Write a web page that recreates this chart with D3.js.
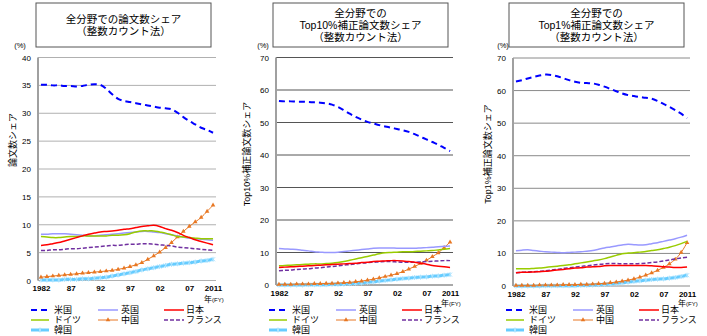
<!DOCTYPE html>
<html>
<head>
<meta charset="utf-8">
<script src="https://cdn.jsdelivr.net/npm/d3@7"></script>
<style>
body { margin: 0; background: #fff; }
svg { font-family: "Liberation Sans", Arial, "Noto Sans CJK JP", sans-serif; }
</style>
</head>
<body>
<svg id="chart" width="707" height="336"></svg>
<script>
// years (FY) and x tick labels
var years = [1982, 1983, 1984, 1985, 1986, 1987, 1988, 1989, 1990, 1991, 1992, 1993, 1994, 1995, 1996,
    1997, 1998, 1999, 2000, 2001, 2002, 2003, 2004, 2005, 2006, 2007, 2008, 2009, 2010, 2011];
var tickYears = [1982, 1987, 1992, 1997, 2002, 2007, 2011];
var tickLabels = ["1982", "87", "92", "97", "02", "07", "2011"];

var countries = ["米国", "英国", "日本", "ドイツ", "中国", "フランス", "韓国"];

// 論文数シェア (all papers)
var usAll = [35.1, 35.1, 35.0, 35.0, 34.9, 34.9, 34.8, 34.9, 35.1, 35.2, 35.1, 34.4, 33.4, 32.6, 32.2,
    32.0, 31.8, 31.6, 31.4, 31.2, 31.0, 30.9, 30.7, 30.1, 29.3, 28.6, 28.0, 27.4, 27.0, 26.5];
var ukAll = [8.3, 8.3, 8.4, 8.4, 8.4, 8.3, 8.2, 8.1, 8.0, 8.0, 8.1, 8.2, 8.3, 8.4, 8.5,
    8.6, 8.7, 8.8, 8.8, 8.7, 8.6, 8.4, 8.2, 8.0, 7.8, 7.6, 7.5, 7.4, 7.3, 7.2];
var jpAll = [6.3, 6.4, 6.6, 6.8, 7.1, 7.4, 7.7, 8.0, 8.3, 8.5, 8.7, 8.8, 8.9, 9.0, 9.2,
    9.3, 9.5, 9.7, 9.8, 9.9, 9.7, 9.3, 9.0, 8.6, 8.1, 7.7, 7.3, 7.0, 6.7, 6.4];
var deAll = [7.9, 7.8, 7.7, 7.7, 7.8, 7.9, 7.9, 8.0, 8.0, 8.0, 8.0, 8.0, 8.1, 8.1, 8.2,
    8.4, 8.7, 8.9, 8.9, 8.9, 8.7, 8.5, 8.2, 7.9, 7.8, 7.7, 7.6, 7.5, 7.5, 7.5];
var cnAll = [0.6, 0.7, 0.8, 0.9, 1.0, 1.1, 1.2, 1.3, 1.4, 1.5, 1.6, 1.7, 1.8, 2.0, 2.2,
    2.5, 2.8, 3.2, 3.8, 4.4, 5.1, 5.9, 6.8, 7.8, 8.8, 9.7, 10.5, 11.3, 12.4, 13.5];
var frAll = [5.4, 5.4, 5.5, 5.5, 5.6, 5.7, 5.7, 5.8, 5.9, 6.0, 6.1, 6.2, 6.3, 6.3, 6.4,
    6.5, 6.5, 6.6, 6.6, 6.5, 6.4, 6.3, 6.2, 6.0, 5.9, 5.8, 5.7, 5.6, 5.5, 5.4];
var krAll = [0.1, 0.1, 0.1, 0.1, 0.2, 0.2, 0.2, 0.3, 0.3, 0.4, 0.5, 0.6, 0.8, 1.0, 1.2,
    1.4, 1.6, 1.9, 2.1, 2.3, 2.5, 2.7, 2.9, 3.0, 3.1, 3.2, 3.3, 3.5, 3.6, 3.8];

// Top10%補正論文数シェア
var usTop10 = [56.6, 56.5, 56.5, 56.4, 56.4, 56.3, 56.2, 56.1, 55.9, 55.5, 54.8, 53.8, 52.7, 51.7, 50.9,
    50.2, 49.7, 49.2, 48.8, 48.4, 48.0, 47.6, 47.1, 46.4, 45.6, 44.8, 44.0, 43.2, 42.2, 41.2];
var ukTop10 = [11.2, 11.1, 11.0, 10.9, 10.7, 10.5, 10.2, 10.1, 10.0, 10.0, 10.1, 10.3, 10.5, 10.7, 10.9,
    11.1, 11.3, 11.4, 11.4, 11.4, 11.3, 11.3, 11.3, 11.3, 11.4, 11.5, 11.6, 11.8, 11.9, 12.0];
var jpTop10 = [5.4, 5.5, 5.6, 5.7, 5.8, 5.9, 6.0, 6.1, 6.2, 6.3, 6.4, 6.5, 6.6, 6.7, 6.9,
    7.0, 7.2, 7.3, 7.4, 7.5, 7.5, 7.4, 7.2, 7.0, 6.7, 6.4, 6.0, 5.8, 5.6, 5.4];
var deTop10 = [5.9, 6.0, 6.1, 6.2, 6.3, 6.4, 6.5, 6.5, 6.6, 6.7, 6.9, 7.2, 7.6, 8.0, 8.4,
    8.8, 9.2, 9.6, 9.9, 10.0, 10.1, 10.2, 10.2, 10.3, 10.4, 10.5, 10.6, 10.8, 11.0, 11.2];
var cnTop10 = [0.2, 0.2, 0.2, 0.3, 0.3, 0.3, 0.4, 0.4, 0.5, 0.5, 0.6, 0.7, 0.8, 1.0, 1.2,
    1.5, 1.8, 2.2, 2.6, 3.0, 3.5, 4.1, 4.9, 5.7, 6.6, 7.6, 8.7, 9.9, 11.5, 13.2];
var frTop10 = [4.4, 4.5, 4.6, 4.8, 4.9, 5.0, 5.2, 5.3, 5.5, 5.7, 5.9, 6.1, 6.3, 6.5, 6.7,
    6.9, 7.0, 7.1, 7.2, 7.2, 7.1, 7.0, 7.0, 7.0, 7.1, 7.2, 7.3, 7.4, 7.5, 7.5];
var krTop10 = [0.0, 0.0, 0.0, 0.0, 0.0, 0.1, 0.1, 0.1, 0.1, 0.2, 0.2, 0.3, 0.4, 0.5, 0.6,
    0.8, 1.0, 1.2, 1.4, 1.6, 1.8, 2.0, 2.1, 2.3, 2.4, 2.5, 2.7, 2.8, 3.0, 3.2];

// Top1%補正論文数シェア
var usTop1 = [62.8, 63.2, 63.7, 64.2, 64.6, 64.9, 64.8, 64.4, 63.8, 63.2, 62.7, 62.4, 62.3, 62.2, 61.8,
    61.2, 60.5, 59.8, 59.1, 58.6, 58.3, 58.0, 57.8, 57.5, 56.8, 55.9, 55.0, 54.0, 52.9, 51.5];
var ukTop1 = [10.8, 11.0, 11.1, 10.9, 10.7, 10.5, 10.4, 10.3, 10.2, 10.3, 10.4, 10.5, 10.7, 10.9, 11.3,
    11.7, 12.0, 12.3, 12.6, 12.8, 12.7, 12.6, 12.7, 13.0, 13.3, 13.7, 14.1, 14.5, 15.0, 15.6];
var jpTop1 = [4.1, 4.2, 4.2, 4.3, 4.4, 4.5, 4.7, 4.9, 5.1, 5.3, 5.5, 5.6, 5.8, 5.9, 6.0,
    6.2, 6.3, 6.3, 6.3, 6.3, 6.3, 6.3, 6.3, 6.2, 6.1, 5.9, 5.8, 5.7, 5.7, 5.8];
var deTop1 = [5.3, 5.3, 5.3, 5.4, 5.5, 5.7, 5.9, 6.1, 6.3, 6.5, 6.8, 7.1, 7.4, 7.7, 8.0,
    8.4, 8.9, 9.4, 9.9, 10.1, 10.2, 10.4, 10.6, 10.9, 11.1, 11.5, 11.9, 12.4, 13.0, 13.7];
var cnTop1 = [0.2, 0.2, 0.2, 0.2, 0.3, 0.3, 0.3, 0.3, 0.4, 0.4, 0.4, 0.5, 0.5, 0.6, 0.7,
    0.8, 1.0, 1.2, 1.5, 1.8, 2.2, 2.7, 3.3, 4.0, 4.8, 5.7, 6.8, 8.2, 10.3, 13.3];
var frTop1 = [4.1, 4.2, 4.3, 4.4, 4.5, 4.7, 4.9, 5.1, 5.4, 5.6, 5.8, 6.0, 6.2, 6.4, 6.6,
    6.8, 6.9, 6.9, 6.8, 6.8, 6.8, 6.9, 7.0, 7.2, 7.4, 7.7, 8.0, 8.3, 8.6, 8.8];
var krTop1 = [0.0, 0.0, 0.0, 0.0, 0.0, 0.1, 0.1, 0.1, 0.1, 0.1, 0.1, 0.2, 0.2, 0.3, 0.4,
    0.5, 0.6, 0.8, 1.0, 1.2, 1.4, 1.6, 1.8, 2.0, 2.1, 2.2, 2.4, 2.6, 2.9, 3.3];

var yTicksAll = [0, 5, 10, 15, 20, 25, 30, 35, 40];
var yTicksTop = [0, 10, 20, 30, 40, 50, 60, 70];

// line styles, same order as countries
var styles = [
    { color: "#0000ff", width: 2, dash: "6,4" },
    { color: "#9999ff", width: 1.5 },
    { color: "#ff0000", width: 1.5 },
    { color: "#99cc00", width: 1.5 },
    { color: "#e87722", width: 1, marker: "tri" },
    { color: "#7030a0", width: 1.5, dash: "4,2" },
    { color: "#66ccff", width: 3, marker: "star" }
];

var panels = [
    { title: ["全分野での論文数シェア", "（整数カウント法）"], ylabel: "論文数シェア",
      series: [usAll, ukAll, jpAll, deAll, cnAll, frAll, krAll], ticks: yTicksAll, max: 40,
      left: 38, right: 216, top: 57.5, bottom: 280.5, grid: "#b0b0b0",
      box: [36, 3, 175, 44], titleY: 19, labelX: 13, labelY: 140, pctX: 20, fyY: 299 },
    { title: ["全分野での", "Top10%補正論文数シェア", "（整数カウント法）"], ylabel: "Top10%補正論文数シェア",
      series: [usTop10, ukTop10, jpTop10, deTop10, cnTop10, frTop10, krTop10], ticks: yTicksTop, max: 70,
      left: 276, right: 453, top: 57.5, bottom: 285, grid: "#555555",
      box: [273, 3, 175, 44], titleY: 13, labelX: 247, labelY: 154, pctX: 263, fyY: 303 },
    { title: ["全分野での", "Top1%補正論文数シェア", "（整数カウント法）"], ylabel: "Top1%補正論文数シェア",
      series: [usTop1, ukTop1, jpTop1, deTop1, cnTop1, frTop1, krTop1], ticks: yTicksTop, max: 70,
      left: 513, right: 690, top: 58, bottom: 286, grid: "#8a8a8a",
      box: [509, 3, 175, 44], titleY: 13, labelX: 488, labelY: 154, pctX: 503, fyY: 303 }
];

var svg = d3.select("#chart");

function drawMarker(sel, type, color) {
    if (type === "tri") {
        sel.append("path")
            .attr("d", d3.symbol(d3.symbolTriangle).size(9))
            .attr("fill", color);
    } else if (type === "star") {
        sel.append("path")
            .attr("d", "M-2,-2L2,2M-2,2L2,-2M0,-2.5L0,2.5")
            .attr("stroke", "#a8e2ff")
            .attr("stroke-width", 1)
            .attr("fill", "none");
    }
}

panels.forEach(function (p) {
    var g = svg.append("g");

    var x = d3.scalePoint()
        .domain(years)
        .range([p.left, p.right])
        .padding(0.5);

    var y = d3.scaleLinear()
        .domain([0, p.max])
        .range([p.bottom, p.top]);

    // title box
    g.append("rect")
        .attr("x", p.box[0]).attr("y", p.box[1])
        .attr("width", p.box[2]).attr("height", p.box[3])
        .attr("fill", "#fff")
        .attr("stroke", "#555")
        .attr("stroke-width", 1);

    g.append("g")
        .selectAll("text")
        .data(p.title)
        .enter().append("text")
        .attr("x", p.box[0] + p.box[2] / 2)
        .attr("y", function (d, i) { return p.titleY + i * 12; })
        .attr("dy", "0.35em")
        .attr("text-anchor", "middle")
        .attr("font-size", "10.5px")
        .attr("fill", "#000")
        .text(function (d) { return d; });

    // gridlines
    g.append("g")
        .selectAll("line")
        .data(p.ticks)
        .enter().append("line")
        .attr("x1", p.left).attr("x2", p.right)
        .attr("y1", function (d) { return y(d); })
        .attr("y2", function (d) { return y(d); })
        .attr("stroke", p.grid)
        .attr("stroke-width", 1);

    // y axis line
    g.append("line")
        .attr("x1", p.left).attr("x2", p.left)
        .attr("y1", p.top).attr("y2", p.bottom)
        .attr("stroke", "#a0a0a0")
        .attr("stroke-width", 2);

    var yAxis = g.append("g")
        .attr("transform", "translate(" + p.left + ",0)")
        .call(d3.axisLeft(y).tickValues(p.ticks).tickSize(0).tickPadding(7));
    yAxis.select(".domain").remove();
    yAxis.selectAll("text").attr("font-size", "8px").attr("fill", "#000")
        .style("font-family", "Liberation Sans, Arial, sans-serif");

    var xAxis = g.append("g")
        .attr("transform", "translate(0," + p.bottom + ")")
        .call(d3.axisBottom(x).tickValues(tickYears)
            .tickFormat(function (d, i) { return tickLabels[i]; })
            .tickSize(0).tickPadding(5));
    xAxis.select(".domain").remove();
    xAxis.selectAll("text").attr("font-size", "8px").attr("font-weight", "bold").attr("fill", "#000")
        .style("font-family", "Liberation Sans, Arial, sans-serif");

    // (%) and 年(FY)
    g.append("text")
        .attr("x", p.pctX).attr("y", p.top - 10)
        .attr("text-anchor", "middle")
        .attr("font-size", "7.5px")
        .text("(%)");

    var fy = g.append("text")
        .attr("x", p.right - 12).attr("y", p.fyY + 3)
        .attr("font-size", "8px")
        .text("年");
    fy.append("tspan").attr("font-size", "6px").text("(FY)");

    // y label
    g.append("text")
        .attr("transform", "translate(" + p.labelX + "," + p.labelY + ")rotate(-90)")
        .attr("text-anchor", "middle")
        .attr("dy", "0.35em")
        .attr("font-size", "9px")
        .text(p.ylabel);

    // lines
    var line = d3.line()
        .x(function (d, i) { return x(years[i]); })
        .y(function (d) { return y(d); })
        .curve(d3.curveCatmullRom.alpha(0.5));

    // draw back to front: korea, china under the others
    var order = [6, 4, 5, 1, 3, 2, 0];
    order.forEach(function (k) {
        var s = styles[k];
        g.append("path")
            .datum(p.series[k])
            .attr("fill", "none")
            .attr("stroke", s.color)
            .attr("stroke-width", s.width)
            .attr("stroke-dasharray", s.dash || null)
            .attr("d", line);
        if (s.marker) {
            g.append("g")
                .selectAll("g")
                .data(p.series[k])
                .enter().append("g")
                .attr("transform", function (d, i) { return "translate(" + x(years[i]) + "," + y(d) + ")"; })
                .each(function () { drawMarker(d3.select(this), s.marker, s.color); });
        }
    });

    // legend
    var cols = [{ l0: -7, l1: 11, t: 16 }, { l0: 60, l1: 80, t: 83 }, { l0: 126, l1: 146, t: 148 }];
    var tags = g.append("g")
        .selectAll("g")
        .data(countries)
        .enter().append("g")
        .attr("transform", function (d, i) { return "translate(" + p.left + "," + (310 + Math.floor(i / 3) * 10) + ")"; });

    tags.append("line")
        .attr("x1", function (d, i) { return cols[i % 3].l0; })
        .attr("x2", function (d, i) { return cols[i % 3].l1; })
        .attr("stroke", function (d, i) { return styles[i].color; })
        .attr("stroke-width", function (d, i) { return styles[i].width; })
        .attr("stroke-dasharray", function (d, i) { return styles[i].dash || null; });

    tags.each(function (d, i) {
        if (styles[i].marker) {
            var m = d3.select(this).append("g")
                .attr("transform", "translate(" + (cols[i % 3].l0 + cols[i % 3].l1) / 2 + ",0)");
            drawMarker(m, styles[i].marker, styles[i].color);
        }
    });

    tags.append("text")
        .attr("x", function (d, i) { return cols[i % 3].t; })
        .attr("dy", "0.35em")
        .attr("font-size", "9px")
        .text(function (d) { return d; });
});
</script>
</body>
</html>
